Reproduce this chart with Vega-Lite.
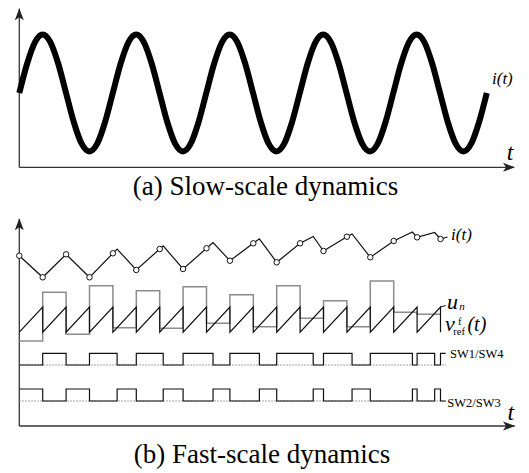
{
  "$schema": "https://vega.github.io/schema/vega-lite/v6.json",
  "padding": 0,
  "background": "white",
  "spacing": 0,
  "bounds": "flush",
  "config": {"view": {"stroke": null}, "font": "Liberation Serif, Times New Roman, serif"},
  "datasets": {
    "axesA": [
      {"t": 0, "i": -1.2701, "t2": 5.29, "i2": -1.2701},
      {"t": 0, "i": -1.2701, "t2": 0, "i2": 1.44}
    ],
    "arrowsA": [
      {"dir": "right", "t": 5.3016, "i": -1.2701},
      {"dir": "up", "t": 0, "i": 1.4479}
    ],
    "sineA": [
      {"t":0,"i":0},{"t":0.0833,"i":0.5},{"t":0.1667,"i":0.866},{"t":0.25,"i":1},{"t":0.3333,"i":0.866},{"t":0.4167,"i":0.5},{"t":0.5,"i":0},{"t":0.5833,"i":-0.5},{"t":0.6667,"i":-0.866},{"t":0.75,"i":-1},{"t":0.8333,"i":-0.866},{"t":0.9167,"i":-0.5},
      {"t":1,"i":0},{"t":1.0833,"i":0.5},{"t":1.1667,"i":0.866},{"t":1.25,"i":1},{"t":1.3333,"i":0.866},{"t":1.4167,"i":0.5},{"t":1.5,"i":0},{"t":1.5833,"i":-0.5},{"t":1.6667,"i":-0.866},{"t":1.75,"i":-1},{"t":1.8333,"i":-0.866},{"t":1.9167,"i":-0.5},
      {"t":2,"i":0},{"t":2.0833,"i":0.5},{"t":2.1667,"i":0.866},{"t":2.25,"i":1},{"t":2.3333,"i":0.866},{"t":2.4167,"i":0.5},{"t":2.5,"i":0},{"t":2.5833,"i":-0.5},{"t":2.6667,"i":-0.866},{"t":2.75,"i":-1},{"t":2.8333,"i":-0.866},{"t":2.9167,"i":-0.5},
      {"t":3,"i":0},{"t":3.0833,"i":0.5},{"t":3.1667,"i":0.866},{"t":3.25,"i":1},{"t":3.3333,"i":0.866},{"t":3.4167,"i":0.5},{"t":3.5,"i":0},{"t":3.5833,"i":-0.5},{"t":3.6667,"i":-0.866},{"t":3.75,"i":-1},{"t":3.8333,"i":-0.866},{"t":3.9167,"i":-0.5},
      {"t":4,"i":0},{"t":4.0833,"i":0.5},{"t":4.1667,"i":0.866},{"t":4.25,"i":1},{"t":4.3333,"i":0.866},{"t":4.4167,"i":0.5},{"t":4.5,"i":0},{"t":4.5833,"i":-0.5},{"t":4.6667,"i":-0.866},{"t":4.75,"i":-1},{"t":4.8333,"i":-0.866},{"t":4.9167,"i":-0.5},
      {"t":5,"i":0}
    ],
    "labelsA": [
      {"key": "it", "t": 5.0556, "i": 0.239, "label": "i(t)"},
      {"key": "t", "t": 5.248, "i": -1.026, "label": "t"},
      {"key": "cap", "t": 2.633, "i": -1.6068, "label": "(a) Slow-scale dynamics"}
    ],
    "axesB": [
      {"t": 0, "v": 0, "t2": 21.17, "v2": 0},
      {"t": 0, "v": 0, "t2": 0, "v2": 207}
    ],
    "arrowsB": [
      {"dir": "right", "t": 21.184, "v": 0},
      {"dir": "up", "t": 0, "v": 207.7}
    ],
    "iLineB": [
      {"t":0,"v":170.3},{"t":1,"v":148.7},{"t":2,"v":171.7},{"t":3,"v":148.7},{"t":4,"v":172.7},{"t":4.18,"v":177},{"t":5,"v":156},{"t":6,"v":177},{"t":6.15,"v":180.1},{"t":7,"v":157},{"t":8,"v":177.7},{"t":8.28,"v":183.5},{"t":9,"v":165.3},{"t":10,"v":182.7},{"t":10.26,"v":187.2},{"t":11,"v":163.7},{"t":12,"v":182.7},{"t":12.56,"v":189.5},{"t":13,"v":175},{"t":14,"v":189.3},{"t":14.22,"v":192},{"t":15,"v":168.7},{"t":16,"v":185},{"t":16.8,"v":194},{"t":17,"v":188.7},{"t":17.75,"v":193.5},{"t":18,"v":187},{"t":18.3,"v":189}
    ],
    "circlesB": [
      {"t":0,"v":170.3},{"t":1,"v":148.7},{"t":2,"v":171.7},{"t":3,"v":148.7},{"t":4,"v":172.7},{"t":5,"v":156},{"t":6,"v":177},{"t":7,"v":157},{"t":8,"v":177.7},{"t":9,"v":165.3},{"t":10,"v":182.7},{"t":11,"v":163.7},{"t":12,"v":182.7},{"t":13,"v":175},{"t":14,"v":189.3},{"t":15,"v":168.7},{"t":16,"v":185},{"t":17,"v":188.7},{"t":18,"v":187}
    ],
    "stairB": [
      {"t":0,"v":85},{"t":1,"v":133.7},{"t":2,"v":91.7},{"t":3,"v":140.3},{"t":4,"v":98.3},{"t":5,"v":135.3},{"t":6,"v":97.7},{"t":7,"v":139.3},{"t":8,"v":102.7},{"t":9,"v":131.3},{"t":10,"v":99.3},{"t":11,"v":140.3},{"t":12,"v":107.7},{"t":13,"v":125.3},{"t":14,"v":99.3},{"t":15,"v":145},{"t":16,"v":113.7},{"t":17,"v":111.7},{"t":18,"v":111.7}
    ],
    "sawB": [
      {"k":0,"t":0,"v":93.8},
      {"k":1,"t":1,"v":119},{"k":2,"t":1,"v":93.8},
      {"k":3,"t":2,"v":119},{"k":4,"t":2,"v":93.8},
      {"k":5,"t":3,"v":119},{"k":6,"t":3,"v":93.8},
      {"k":7,"t":4,"v":119},{"k":8,"t":4,"v":93.8},
      {"k":9,"t":5,"v":119},{"k":10,"t":5,"v":93.8},
      {"k":11,"t":6,"v":119},{"k":12,"t":6,"v":93.8},
      {"k":13,"t":7,"v":119},{"k":14,"t":7,"v":93.8},
      {"k":15,"t":8,"v":119},{"k":16,"t":8,"v":93.8},
      {"k":17,"t":9,"v":119},{"k":18,"t":9,"v":93.8},
      {"k":19,"t":10,"v":119},{"k":20,"t":10,"v":93.8},
      {"k":21,"t":11,"v":119},{"k":22,"t":11,"v":93.8},
      {"k":23,"t":12,"v":119},{"k":24,"t":12,"v":93.8},
      {"k":25,"t":13,"v":119},{"k":26,"t":13,"v":93.8},
      {"k":27,"t":14,"v":119},{"k":28,"t":14,"v":93.8},
      {"k":29,"t":15,"v":119},{"k":30,"t":15,"v":93.8},
      {"k":31,"t":16,"v":119},{"k":32,"t":16,"v":93.8},
      {"k":33,"t":17,"v":119},{"k":34,"t":17,"v":93.8},
      {"k":35,"t":18,"v":119},{"k":36,"t":18,"v":93.8}
    ],
    "leadB": [
      {"t": 18, "v": 119}, {"t": 18.22, "v": 120.5}
    ],
    "swB": [
      {"sig":"sw1","t":0,"v":61},{"sig":"sw1","t":1,"v":72.7},{"sig":"sw1","t":2,"v":61},{"sig":"sw1","t":3,"v":72.7},{"sig":"sw1","t":4.18,"v":61},{"sig":"sw1","t":5,"v":72.7},{"sig":"sw1","t":6.15,"v":61},{"sig":"sw1","t":7,"v":72.7},{"sig":"sw1","t":8.28,"v":61},{"sig":"sw1","t":9,"v":72.7},{"sig":"sw1","t":10.26,"v":61},{"sig":"sw1","t":11,"v":72.7},{"sig":"sw1","t":12.56,"v":61},{"sig":"sw1","t":13,"v":72.7},{"sig":"sw1","t":14.22,"v":61},{"sig":"sw1","t":15,"v":72.7},{"sig":"sw1","t":16.8,"v":61},{"sig":"sw1","t":17,"v":72.7},{"sig":"sw1","t":17.75,"v":61},{"sig":"sw1","t":18,"v":72.7},{"sig":"sw1","t":18.22,"v":72.7},
      {"sig":"sw2","t":0,"v":37},{"sig":"sw2","t":1,"v":25},{"sig":"sw2","t":2,"v":37},{"sig":"sw2","t":3,"v":25},{"sig":"sw2","t":4.18,"v":37},{"sig":"sw2","t":5,"v":25},{"sig":"sw2","t":6.15,"v":37},{"sig":"sw2","t":7,"v":25},{"sig":"sw2","t":8.28,"v":37},{"sig":"sw2","t":9,"v":25},{"sig":"sw2","t":10.26,"v":37},{"sig":"sw2","t":11,"v":25},{"sig":"sw2","t":12.56,"v":37},{"sig":"sw2","t":13,"v":25},{"sig":"sw2","t":14.22,"v":37},{"sig":"sw2","t":15,"v":25},{"sig":"sw2","t":16.8,"v":37},{"sig":"sw2","t":17,"v":25},{"sig":"sw2","t":17.75,"v":37},{"sig":"sw2","t":18,"v":25},{"sig":"sw2","t":18.22,"v":25}
    ],
    "baseB": [
      {"sig":"sw1","t":0,"v":61},{"sig":"sw1","t":18.25,"v":61},
      {"sig":"sw2","t":0,"v":25},{"sig":"sw2","t":18.25,"v":25}
    ],
    "labelsB": [
      {"key": "it", "t": 18.45, "v": 191, "label": "i(t)"},
      {"key": "big", "t": 18.28, "v": 117, "label": "u"},
      {"key": "subi", "t": 18.8, "v": 116, "label": "n"},
      {"key": "big", "t": 18.19, "v": 95, "label": "v"},
      {"key": "sub", "t": 18.55, "v": 91, "label": "ref"},
      {"key": "sub", "t": 18.75, "v": 101.5, "label": "f"},
      {"key": "paren", "t": 19.15, "v": 95, "label": "(t)"},
      {"key": "sw", "t": 18.41, "v": 72, "label": "SW1/SW4"},
      {"key": "sw", "t": 18.29, "v": 23.5, "label": "SW2/SW3"},
      {"key": "t", "t": 21.01, "v": 13.5, "label": "t"},
      {"key": "cap", "t": 10.372, "v": -29, "label": "(b) Fast-scale dynamics"}
    ]
  },
  "vconcat": [
    {
      "width": 529,
      "height": 200,
      "encoding": {
        "x": {"field": "t", "type": "quantitative", "scale": {"domain": [-0.2064, 5.4513], "nice": false, "zero": false}, "axis": null},
        "y": {"field": "i", "type": "quantitative", "scale": {"domain": [-1.8291, 1.5897], "nice": false, "zero": false}, "axis": null}
      },
      "layer": [
        {"data": {"name": "axesA"}, "mark": {"type": "rule", "color": "#333333", "strokeWidth": 1.3}, "encoding": {"x2": {"field": "t2"}, "y2": {"field": "i2"}}},
        {"data": {"name": "arrowsA"}, "transform": [{"filter": "datum.dir === 'right'"}], "mark": {"type": "point", "shape": "M0,0 L-2,-0.75 L-1.5,0 L-2,0.75 Z", "size": 144, "filled": true, "color": "#222222", "opacity": 1}},
        {"data": {"name": "arrowsA"}, "transform": [{"filter": "datum.dir === 'up'"}], "mark": {"type": "point", "shape": "M0,0 L-0.75,2 L0,1.5 L0.75,2 Z", "size": 144, "filled": true, "color": "#222222", "opacity": 1}},
        {"data": {"name": "sineA"}, "mark": {"type": "line", "color": "black", "strokeWidth": 6, "interpolate": "monotone"}},
        {"data": {"name": "labelsA"}, "transform": [{"filter": "datum.key === 'it'"}], "mark": {"type": "text", "font": "Liberation Serif, Times New Roman, serif", "color": "black", "fontSize": 17, "fontStyle": "italic", "align": "left", "baseline": "middle"}, "encoding": {"text": {"field": "label"}}},
        {"data": {"name": "labelsA"}, "transform": [{"filter": "datum.key === 't'"}], "mark": {"type": "text", "font": "Liberation Serif, Times New Roman, serif", "color": "black", "fontSize": 24, "fontStyle": "italic", "align": "center", "baseline": "middle"}, "encoding": {"text": {"field": "label"}}},
        {"data": {"name": "labelsA"}, "transform": [{"filter": "datum.key === 'cap'"}], "mark": {"type": "text", "font": "Liberation Serif, Times New Roman, serif", "color": "black", "fontSize": 27, "align": "center", "baseline": "middle"}, "encoding": {"text": {"field": "label"}}}
      ]
    },
    {
      "width": 529,
      "height": 273,
      "encoding": {
        "x": {"field": "t", "type": "quantitative", "scale": {"domain": [-0.8248, 21.782], "nice": false, "zero": false}, "axis": null},
        "y": {"field": "v", "type": "quantitative", "scale": {"domain": [-47, 226], "nice": false, "zero": false}, "axis": null}
      },
      "layer": [
        {"data": {"name": "axesB"}, "mark": {"type": "rule", "color": "#333333", "strokeWidth": 1.3}, "encoding": {"x2": {"field": "t2"}, "y2": {"field": "v2"}}},
        {"data": {"name": "arrowsB"}, "transform": [{"filter": "datum.dir === 'right'"}], "mark": {"type": "point", "shape": "M0,0 L-2,-0.75 L-1.5,0 L-2,0.75 Z", "size": 144, "filled": true, "color": "#222222", "opacity": 1}},
        {"data": {"name": "arrowsB"}, "transform": [{"filter": "datum.dir === 'up'"}], "mark": {"type": "point", "shape": "M0,0 L-0.75,2 L0,1.5 L0.75,2 Z", "size": 144, "filled": true, "color": "#222222", "opacity": 1}},
        {"data": {"name": "baseB"}, "mark": {"type": "line", "color": "#888888", "strokeWidth": 1, "strokeDash": [1.5, 1.5]}, "encoding": {"detail": {"field": "sig"}}},
        {"data": {"name": "swB"}, "mark": {"type": "line", "color": "#111111", "strokeWidth": 1.2, "interpolate": "step-after"}, "encoding": {"detail": {"field": "sig"}}},
        {"data": {"name": "stairB"}, "mark": {"type": "line", "color": "#8c8c8c", "strokeWidth": 1.5, "interpolate": "step-after"}},
        {"data": {"name": "sawB"}, "mark": {"type": "line", "color": "#111111", "strokeWidth": 1.2}, "encoding": {"order": {"field": "k"}}},
        {"data": {"name": "leadB"}, "mark": {"type": "line", "color": "#111111", "strokeWidth": 1}},
        {"data": {"name": "iLineB"}, "mark": {"type": "line", "color": "#111111", "strokeWidth": 1.2}},
        {"data": {"name": "circlesB"}, "mark": {"type": "point", "shape": "circle", "size": 30, "filled": true, "fill": "white", "stroke": "#111111", "strokeWidth": 1, "opacity": 1}},
        {"data": {"name": "labelsB"}, "transform": [{"filter": "datum.key === 'it'"}], "mark": {"type": "text", "font": "Liberation Serif, Times New Roman, serif", "color": "black", "fontSize": 17, "fontStyle": "italic", "align": "left", "baseline": "middle"}, "encoding": {"text": {"field": "label"}}},
        {"data": {"name": "labelsB"}, "transform": [{"filter": "datum.key === 'big'"}], "mark": {"type": "text", "font": "Liberation Serif, Times New Roman, serif", "color": "black", "fontSize": 22, "fontStyle": "italic", "align": "left", "baseline": "alphabetic"}, "encoding": {"text": {"field": "label"}}},
        {"data": {"name": "labelsB"}, "transform": [{"filter": "datum.key === 'subi'"}], "mark": {"type": "text", "font": "Liberation Serif, Times New Roman, serif", "color": "black", "fontSize": 11, "fontStyle": "italic", "align": "left", "baseline": "alphabetic"}, "encoding": {"text": {"field": "label"}}},
        {"data": {"name": "labelsB"}, "transform": [{"filter": "datum.key === 'sub'"}], "mark": {"type": "text", "font": "Liberation Serif, Times New Roman, serif", "color": "black", "fontSize": 10.5, "align": "left", "baseline": "alphabetic"}, "encoding": {"text": {"field": "label"}}},
        {"data": {"name": "labelsB"}, "transform": [{"filter": "datum.key === 'paren'"}], "mark": {"type": "text", "font": "Liberation Serif, Times New Roman, serif", "color": "black", "fontSize": 20, "fontStyle": "italic", "align": "left", "baseline": "alphabetic"}, "encoding": {"text": {"field": "label"}}},
        {"data": {"name": "labelsB"}, "transform": [{"filter": "datum.key === 'sw'"}], "mark": {"type": "text", "font": "Liberation Serif, Times New Roman, serif", "color": "black", "fontSize": 12.5, "align": "left", "baseline": "middle"}, "encoding": {"text": {"field": "label"}}},
        {"data": {"name": "labelsB"}, "transform": [{"filter": "datum.key === 't'"}], "mark": {"type": "text", "font": "Liberation Serif, Times New Roman, serif", "color": "black", "fontSize": 24, "fontStyle": "italic", "align": "center", "baseline": "middle"}, "encoding": {"text": {"field": "label"}}},
        {"data": {"name": "labelsB"}, "transform": [{"filter": "datum.key === 'cap'"}], "mark": {"type": "text", "font": "Liberation Serif, Times New Roman, serif", "color": "black", "fontSize": 27, "align": "center", "baseline": "middle"}, "encoding": {"text": {"field": "label"}}}
      ]
    }
  ]
}
